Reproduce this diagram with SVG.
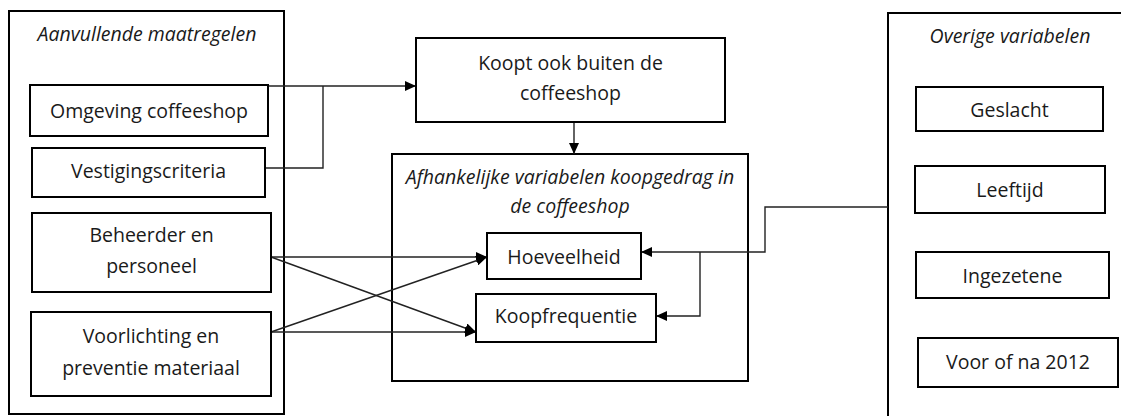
<svg xmlns="http://www.w3.org/2000/svg" width="1121" height="416" viewBox="0 0 1121 416">
<defs>
<style>
.box{fill:#fff;stroke:#000;stroke-width:2}
.grp{fill:none;stroke:#000;stroke-width:2}
.t{font-family:"Open Sans","Liberation Sans",sans-serif;font-size:19.5px;fill:#1a1a1a;text-anchor:middle}
.ti{font-style:italic}
.c{fill:none;stroke:#222;stroke-width:1.4}
.a{marker-end:url(#arr)}
</style>
<marker id="arr" markerUnits="userSpaceOnUse" markerWidth="12" markerHeight="10" refX="11" refY="5" orient="auto">
<path d="M0,0 L11,5 L0,10 z" fill="#000"/>
</marker>
</defs>
<rect width="1121" height="416" fill="#fff"/>

<g id="aanvullende">
<rect class="grp" x="9" y="11" width="275" height="403"/>
<text class="t ti" x="147" y="41">Aanvullende maatregelen</text>
</g>
<g id="overige">
<path class="grp" d="M1125,13 H888 V420"/>
<text class="t ti" x="1010" y="43">Overige variabelen</text>
</g>
<g id="afhankelijke">
<rect class="grp" x="392" y="154" width="356" height="227"/>
<text class="t ti" x="570" y="184">Afhankelijke variabelen koopgedrag in</text>
<text class="t ti" x="570" y="213">de coffeeshop</text>
</g>

<g id="connectors">
<path class="c a" d="M268,86 H416"/>
<path class="c" d="M265,168 H323 V86"/>
<path class="c a" d="M574,122 V154"/>
<path class="c a" d="M271,257 H487"/>
<path class="c a" d="M271,257 L476,332"/>
<path class="c a" d="M271,332 L487,257"/>
<path class="c a" d="M271,332 H476"/>
<path class="c a" d="M888,207 H765 V252 H641"/>
<path class="c a" d="M700,252 V316 H656"/>
</g>

<g id="omgeving">
<rect class="box" x="30" y="85" width="238" height="51"/>
<text class="t" x="149" y="118">Omgeving coffeeshop</text>
</g>
<g id="vestigingscriteria">
<rect class="box" x="32" y="148" width="233" height="49"/>
<text class="t" x="148.5" y="178">Vestigingscriteria</text>
</g>
<g id="beheerder">
<rect class="box" x="32" y="213" width="239" height="79"/>
<text class="t" x="151.5" y="242">Beheerder en</text>
<text class="t" x="151.5" y="273">personeel</text>
</g>
<g id="voorlichting">
<rect class="box" x="31" y="312" width="240" height="84"/>
<text class="t" x="151" y="343">Voorlichting en</text>
<text class="t" x="151" y="375">preventie materiaal</text>
</g>
<g id="koopt">
<rect class="box" x="416" y="38" width="309" height="84"/>
<text class="t" x="570.5" y="70">Koopt ook buiten de</text>
<text class="t" x="570.5" y="100">coffeeshop</text>
</g>
<g id="hoeveelheid">
<rect class="box" x="487" y="233" width="154" height="46"/>
<text class="t" x="564" y="264">Hoeveelheid</text>
</g>
<g id="koopfrequentie">
<rect class="box" x="476" y="294" width="180" height="48"/>
<text class="t" x="566" y="323">Koopfrequentie</text>
</g>
<g id="geslacht">
<rect class="box" x="916" y="87" width="187" height="44"/>
<text class="t" x="1009.5" y="117">Geslacht</text>
</g>
<g id="leeftijd">
<rect class="box" x="915" y="166" width="190" height="47"/>
<text class="t" x="1010" y="197">Leeftijd</text>
</g>
<g id="ingezetene">
<rect class="box" x="916" y="252" width="193" height="46"/>
<text class="t" x="1012.5" y="283">Ingezetene</text>
</g>
<g id="voorofna2012">
<rect class="box" x="918" y="338" width="200" height="49"/>
<text class="t" x="1018" y="369">Voor of na 2012</text>
</g>
</svg>
